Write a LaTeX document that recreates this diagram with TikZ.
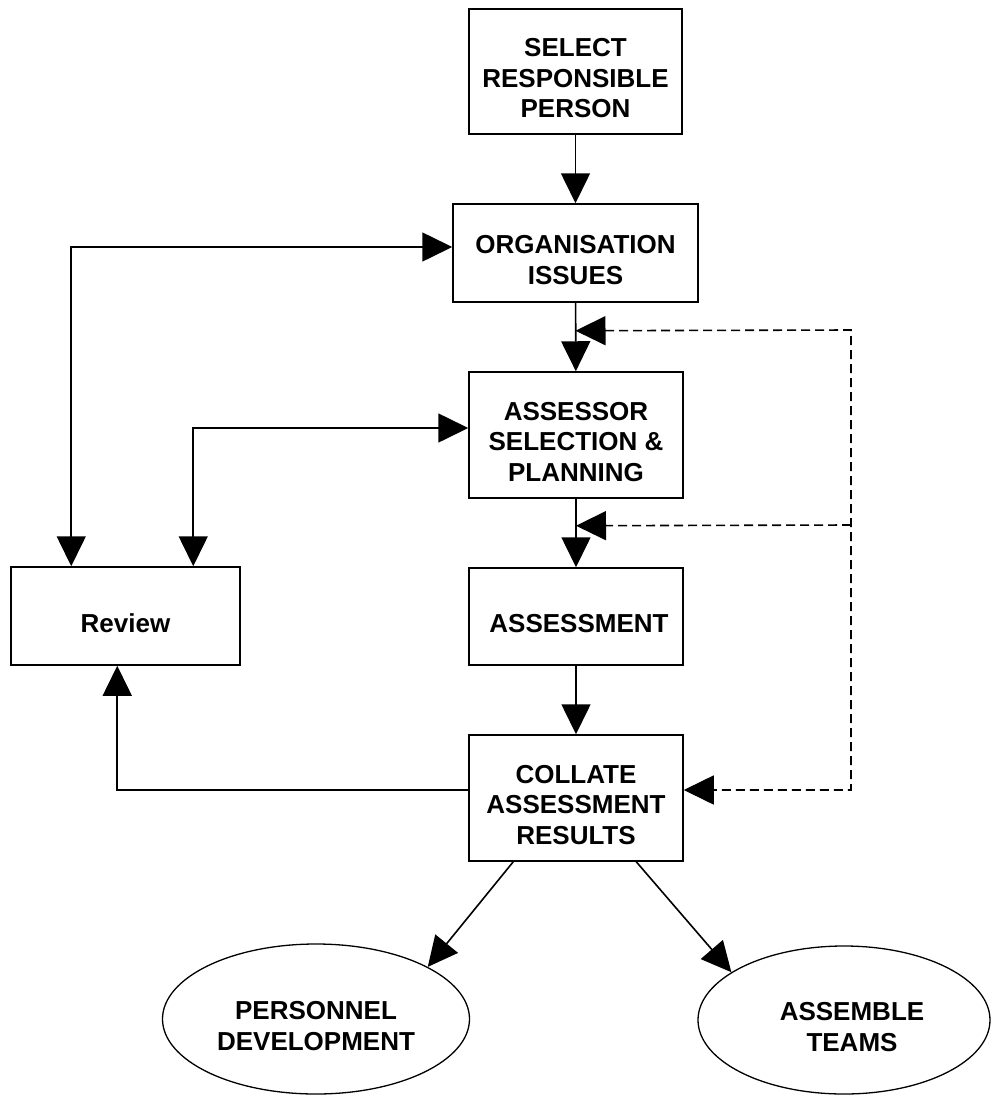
\documentclass[tikz,border=0pt]{standalone}
\usepackage{fontspec}
\setmainfont{Liberation Sans}
\usetikzlibrary{arrows.meta,shapes.geometric,calc}
\begin{document}
\begin{tikzpicture}[x=1pt,y=-1pt,
  >={Triangle[length=30pt,width=29pt]},
  box/.style={draw,line width=1.5pt,inner sep=0pt,rectangle},
  oval/.style={draw,line width=1.3pt,ellipse,inner sep=0pt},
  txt/.style={font=\fontsize{26}{30.5}\selectfont\bfseries,align=center,inner sep=0pt,yshift=-7pt},
  conn/.style={line width=1.6pt},
  dsh/.style={line width=1.6pt,dash pattern=on 9pt off 5pt}]
\useasboundingbox (0,0) rectangle (994,1095);

\node[box,minimum width=213pt,minimum height=125pt,label={[txt]center:SELECT\\RESPONSIBLE\\PERSON}] (sel) at (575.5,71.5) {};
\node[box,minimum width=245pt,minimum height=98pt,label={[txt]center:ORGANISATION\\ISSUES}] (org) at (575.5,253) {};
\node[box,minimum width=214pt,minimum height=126pt,label={[txt]center:ASSESSOR\\SELECTION \&\\PLANNING}] (asr) at (576,435) {};
\node[box,minimum width=214pt,minimum height=97pt,label={[txt,xshift=3pt]center:ASSESSMENT}] (ass) at (576,616.5) {};
\node[box,minimum width=214pt,minimum height=126pt,label={[txt]center:COLLATE\\ASSESSMENT\\RESULTS}] (col) at (576,798) {};
\node[box,minimum width=229pt,minimum height=98pt,label={[txt]center:Review}] (rev) at (125.5,616) {};
\node[oval,minimum width=307pt,minimum height=150pt,label={[txt]center:PERSONNEL\\DEVELOPMENT}] (pd) at (316,1019) {};
\node[oval,minimum width=292pt,minimum height=148pt,label={[txt,xshift=8pt]center:ASSEMBLE\\TEAMS}] (at) at (844,1020) {};

\coordinate (r1) at ($(rev.north west)+(61,0)$);
\coordinate (r2) at ($(rev.north west)+(183,0)$);
\coordinate (r3) at ($(rev.south west)+(107,0)$);
\coordinate (o1) at ($(org.west)+(0,-6)$);
\coordinate (a1) at ($(asr.west)+(0,-7)$);
\coordinate (cw) at ($(col.west)+(0,-8)$);
\coordinate (ce) at ($(col.east)+(0,-8)$);
\coordinate (d1) at ($(org.south)+(0,28)$);
\coordinate (d2) at ($(asr.south)+(0,27)$);
\coordinate (e1) at (851,330);
\coordinate (e2) at (851,525);
\coordinate (e3) at (851,790);
\coordinate (c1) at ($(col.south west)+(45,0)$);
\coordinate (c2) at ($(col.south west)+(168,0)$);

\draw[conn,->] (sel) -- (org);
\draw[conn,->] (org) -- (asr);
\draw[conn,->] (asr) -- (ass);
\draw[conn,->] (ass) -- (col);
\draw[conn,<->] (r1) |- (o1);
\draw[conn,<->] (r2) |- (a1);
\draw[conn,->] (cw) -| (r3);
\draw[dsh,<->] (d1) -- (e1) -- (e3) -- (ce);
\draw[dsh,->] (e2) -- (d2);
\draw[conn,->] (c1) -- (pd.25);
\draw[conn,->] (c2) -- (at.157);
\end{tikzpicture}
\end{document}
